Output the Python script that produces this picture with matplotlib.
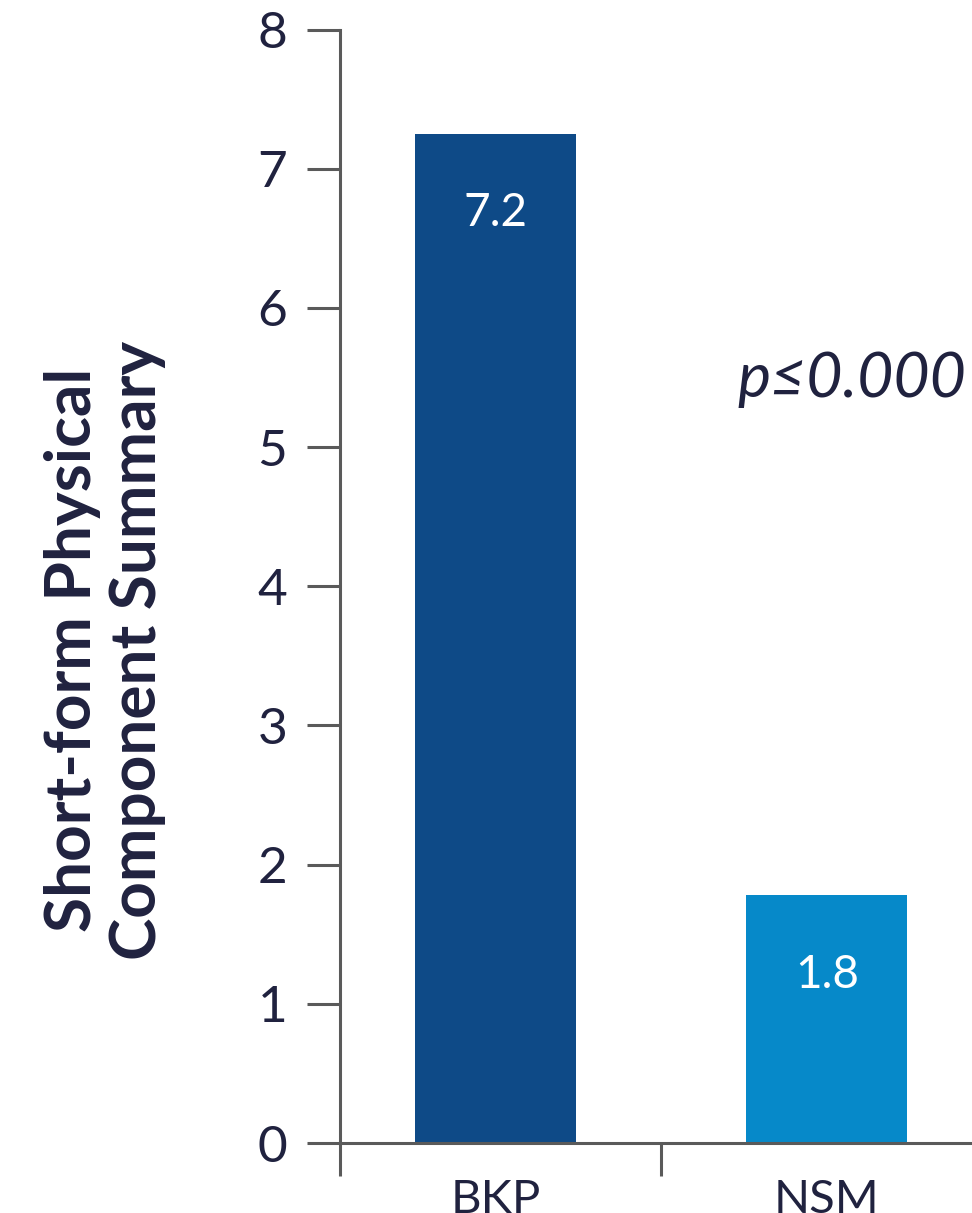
import matplotlib
matplotlib.use('Agg')
import matplotlib.pyplot as plt

# Data
categories = ['BKP', 'NSM']
values = [7.25, 1.78]
bar_labels = ['7.2', '1.8']
bar_colors = ['#0E4A87', '#0689C9']
yticks = [0, 1, 2, 3, 4, 5, 6, 7, 8]
p_text = 'p≤0.000'

text_col = '#20223F'
axis_col = '#5A5A5A'
plt.rcParams['font.family'] = ['Lato', 'DejaVu Sans']

fig = plt.figure(figsize=(9.72, 12.13), dpi=100)
ax = fig.add_axes([340/972, 70/1213, 662/972, 1113.5/1213])

x = list(range(len(categories)))
ax.bar(x, values, width=0.486, color=bar_colors, zorder=2)

for xi, v, lab in zip(x, values, bar_labels):
    ax.text(xi, v - 0.57, lab, ha='center', va='center', color='white', fontsize=33)

ax.text(0.73, 5.36, p_text, ha='left', va='baseline', style='italic',
        color=text_col, fontsize=45)

ax.set_xlim(-0.471, 1.529)
ax.set_ylim(0, 8)
ax.set_yticks(yticks)
ax.set_yticklabels([str(t) for t in yticks])
ax.set_xticks(x)
ax.set_xticklabels(categories)
ax.set_xticks([-0.471, 0.5, 1.5], minor=True)

for s in ['top', 'right']:
    ax.spines[s].set_visible(False)
for s in ['left', 'bottom']:
    ax.spines[s].set_color(axis_col)
    ax.spines[s].set_linewidth(2.2)

ax.tick_params(axis='y', length=24, width=2.2, color=axis_col, pad=14,
               labelsize=37, labelcolor=text_col)
ax.tick_params(axis='x', which='major', length=0, pad=26,
               labelsize=34, labelcolor=text_col)
ax.tick_params(axis='x', which='minor', length=24, width=2.2, color=axis_col)

fig.text(105/972, (1213-650)/1213, 'Short-form Physical\nComponent Summary',
         rotation=90, ha='center', va='center', multialignment='center',
         fontsize=46, fontweight='bold', color=text_col, linespacing=1.15)

fig.savefig('out.png', dpi=100)
